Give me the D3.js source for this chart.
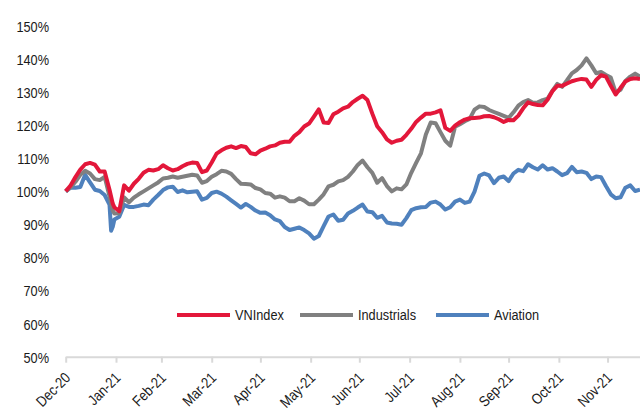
<!DOCTYPE html>
<html><head><meta charset="utf-8">
<script src="https://cdn.jsdelivr.net/npm/d3@7"></script>
<style>
html,body{margin:0;padding:0;background:#fff;}
svg{display:block;}
text{font-family:"Liberation Sans",Arial,sans-serif;fill:#1a1a1a;}
</style></head>
<body><svg id="c" width="640" height="414"></svg>
<script>
const dates = [
"2020-12-31","2021-01-03","2021-01-06","2021-01-09","2021-01-12","2021-01-15","2021-01-18","2021-01-21","2021-01-24","2021-01-27",
"2021-01-28","2021-01-29",
"2021-01-30","2021-02-02","2021-02-05","2021-02-08","2021-02-11","2021-02-14","2021-02-17","2021-02-20","2021-02-23","2021-02-26",
"2021-03-01","2021-03-04","2021-03-07","2021-03-10","2021-03-13","2021-03-16","2021-03-19","2021-03-22","2021-03-25","2021-03-28",
"2021-03-31","2021-04-03","2021-04-06","2021-04-09","2021-04-12","2021-04-15","2021-04-18","2021-04-21","2021-04-24","2021-04-27",
"2021-04-30","2021-05-03","2021-05-06","2021-05-09","2021-05-12","2021-05-15","2021-05-18","2021-05-21","2021-05-24","2021-05-27",
"2021-05-30","2021-06-02","2021-06-05","2021-06-08","2021-06-11","2021-06-14","2021-06-17","2021-06-20","2021-06-23","2021-06-26",
"2021-06-29","2021-07-02","2021-07-05","2021-07-08","2021-07-11","2021-07-14","2021-07-17","2021-07-20","2021-07-23","2021-07-26",
"2021-07-29","2021-08-01","2021-08-04","2021-08-07","2021-08-10","2021-08-13","2021-08-16","2021-08-19","2021-08-22","2021-08-25",
"2021-08-28","2021-08-31","2021-09-03","2021-09-06","2021-09-09","2021-09-12","2021-09-15","2021-09-18","2021-09-21","2021-09-24",
"2021-09-27","2021-09-30","2021-10-03","2021-10-06","2021-10-09","2021-10-12","2021-10-15","2021-10-18","2021-10-21","2021-10-24",
"2021-10-27","2021-10-30","2021-11-02","2021-11-05","2021-11-08","2021-11-11","2021-11-14","2021-11-17","2021-11-20","2021-11-23",
"2021-11-26","2021-11-29","2021-12-02","2021-12-05","2021-12-08","2021-12-11","2021-12-14","2021-12-17","2021-12-20"
];
const vnindex = [
100.0,101.8,104.3,106.6,108.2,108.6,108.1,106.0,106.0,100.5,
98.4,96.3,
95.2,94.0,101.8,100.2,102.3,103.8,105.6,106.5,106.3,106.7,
107.9,107.0,106.3,106.7,107.6,108.3,108.7,108.6,105.8,106.3,
108.7,111.4,112.4,113.2,113.6,113.1,113.7,113.4,111.5,111.2,
112.3,112.9,113.6,113.9,114.7,115.0,115.0,116.8,117.9,119.6,
120.5,122.6,124.8,120.8,120.7,123.3,124.1,125.1,125.6,127.0,
128.0,128.9,127.6,123.5,119.7,117.9,115.7,114.7,115.3,115.6,
117.1,118.9,121.0,122.3,123.5,123.5,123.9,124.5,119.2,118.3,
119.9,120.9,121.7,122.1,122.2,122.3,122.7,122.8,122.4,121.8,
121.0,121.6,121.5,122.9,125.1,126.9,126.4,126.1,126.0,127.7,
130.3,131.9,131.9,132.6,133.3,133.7,134.0,133.8,131.6,133.7,
135.1,134.7,131.9,129.3,131.3,133.2,134.0,134.2,134.0
];
const industrials = [
100.0,101.2,102.9,105.0,106.2,105.4,103.7,103.4,104.4,98.5,
96.4,94.2,
93.3,93.4,98.2,96.7,98.1,99.1,100.0,100.9,101.8,102.7,
103.9,104.1,104.5,104.1,104.4,104.7,105.0,104.8,102.6,103.1,
104.4,105.2,106.2,106.0,105.3,103.7,102.3,102.2,102.1,101.0,
100.6,99.5,99.3,98.1,98.5,98.1,97.0,97.0,97.9,97.2,
96.1,96.1,97.5,99.1,101.5,102.0,103.0,103.4,104.4,106.0,
108.0,109.3,107.3,105.6,102.6,104.0,101.6,100.0,100.9,100.6,
102.1,105.6,108.6,111.5,117.2,120.8,120.6,117.9,115.3,113.8,
119.5,120.3,121.2,121.9,124.7,125.7,125.5,124.6,124.0,123.4,
122.8,122.2,123.9,125.9,127.0,127.6,126.8,126.9,127.6,128.0,
130.4,132.5,131.6,133.6,135.7,136.7,138.1,140.2,138.1,135.7,
136.1,135.2,134.4,129.9,130.7,133.4,134.7,135.6,134.7
];
const aviation = [
100.0,101.2,101.1,101.3,105.0,102.7,100.5,100.1,98.9,96.0,
88.1,89.3,
91.5,92.3,95.9,95.3,95.3,95.6,96.0,95.8,97.5,98.9,
100.4,101.2,101.4,99.8,100.3,99.7,99.9,100.0,97.5,98.0,
99.5,99.9,99.3,98.4,97.3,96.2,95.1,96.2,95.3,94.2,
93.5,93.6,92.8,91.5,91.0,89.2,88.3,88.7,89.1,88.3,
87.3,85.7,86.5,89.5,92.4,93.0,91.1,91.4,93.3,94.1,
95.1,96.0,93.9,93.7,92.0,92.6,90.6,90.3,90.2,89.9,
91.9,94.3,94.9,95.2,95.3,96.6,96.9,96.0,94.5,95.2,
96.9,97.5,96.5,96.9,99.9,104.7,105.4,104.8,102.5,104.1,
104.5,103.1,105.4,106.5,106.1,108.2,107.3,106.6,107.9,106.6,
107.0,106.0,104.9,105.5,107.4,105.8,106.0,105.6,103.7,104.5,
104.3,101.6,99.1,97.9,98.2,101.1,101.8,100.1,100.5
];
const tickDates = ["2020-12-31","2021-01-31","2021-02-28","2021-03-31","2021-04-30","2021-05-31","2021-06-30","2021-07-31","2021-08-31","2021-09-30","2021-10-31","2021-11-30"];
const tickLabels = ["Dec-20","Jan-21","Feb-21","Mar-21","Apr-21","May-21","Jun-21","Jul-21","Aug-21","Sep-21","Oct-21","Nov-21"];
const yTicks = [50,60,70,80,90,100,110,120,130,140,150];
const seriesNames = ["VNIndex","Industrials","Aviation"];
const seriesColors = ["#E3173A","#808080","#4F81BD"];

const SX = 0.85; // narrow-font look
const FONT = '"Liberation Sans",Arial,sans-serif';
const parse = d3.timeParse("%Y-%m-%d");
const svg = d3.select("#c");
const x = d3.scaleTime().domain([parse("2020-12-31"), parse("2021-12-20")]).range([65.7, 640]);
const y = d3.scaleLinear().domain([50,150]).range([356.7, 26]);

// y labels
const yAxis = d3.axisLeft(y).tickValues(yTicks).tickFormat(d => d + "%").tickSize(0).tickPadding(0);
const ga = svg.append("g").attr("transform","translate(49,0)").call(yAxis);
ga.select(".domain").remove();
ga.selectAll("text").style("font-size","15px").style("font-family",FONT).attr("fill","#1a1a1a")
  .attr("x",0).attr("dy","0.36em").attr("transform",`scale(${SX},1)`);

// x axis
const xAxis = d3.axisBottom(x).tickValues(tickDates.map(parse)).tickFormat((d,i) => tickLabels[i]).tickSize(6).tickSizeOuter(0);
const gx = svg.append("g").attr("transform","translate(0,356.7)").call(xAxis);
gx.select(".domain").attr("stroke","#d9d9d9").attr("stroke-width",2);
gx.selectAll(".tick line").attr("stroke","#d9d9d9").attr("stroke-width",2);
gx.selectAll("text").style("font-size","15px").style("font-family",FONT).attr("fill","#1a1a1a")
  .attr("text-anchor","end").attr("y",0).attr("dy",0)
  .attr("transform",`translate(5,22) rotate(-45) scale(${SX},1)`);

// lines
const seriesVals = [vnindex, industrials, aviation];
svg.append("clipPath").attr("id","clip").append("rect").attr("x",60).attr("y",0).attr("width",580).attr("height",414);
const line = d3.line().defined(d => d[1] != null && !isNaN(d[1])).x(d => x(d[0])).y(d => y(d[1]));
[2,1,0].forEach(k => {
  const data = dates.map((d,i) => [parse(d), seriesVals[k][i]]);
  svg.append("path").datum(data).attr("d", line).attr("fill","none")
    .attr("stroke", seriesColors[k]).attr("stroke-width",4)
    .attr("stroke-linejoin","round").attr("stroke-linecap","butt")
    .attr("clip-path","url(#clip)");
});

// legend
const legX = [177, 300, 436];
const leg = svg.append("g");
seriesNames.forEach((n,i) => {
  leg.append("line").attr("x1",legX[i]).attr("x2",legX[i]+53).attr("y1",315).attr("y2",315)
    .attr("stroke",seriesColors[i]).attr("stroke-width",4);
  leg.append("text").attr("transform",`translate(${legX[i]+58},315) scale(${SX},1)`)
    .attr("dy","0.36em").style("font-size","15px").style("font-family",FONT).text(n);
});
</script>
</body></html>
